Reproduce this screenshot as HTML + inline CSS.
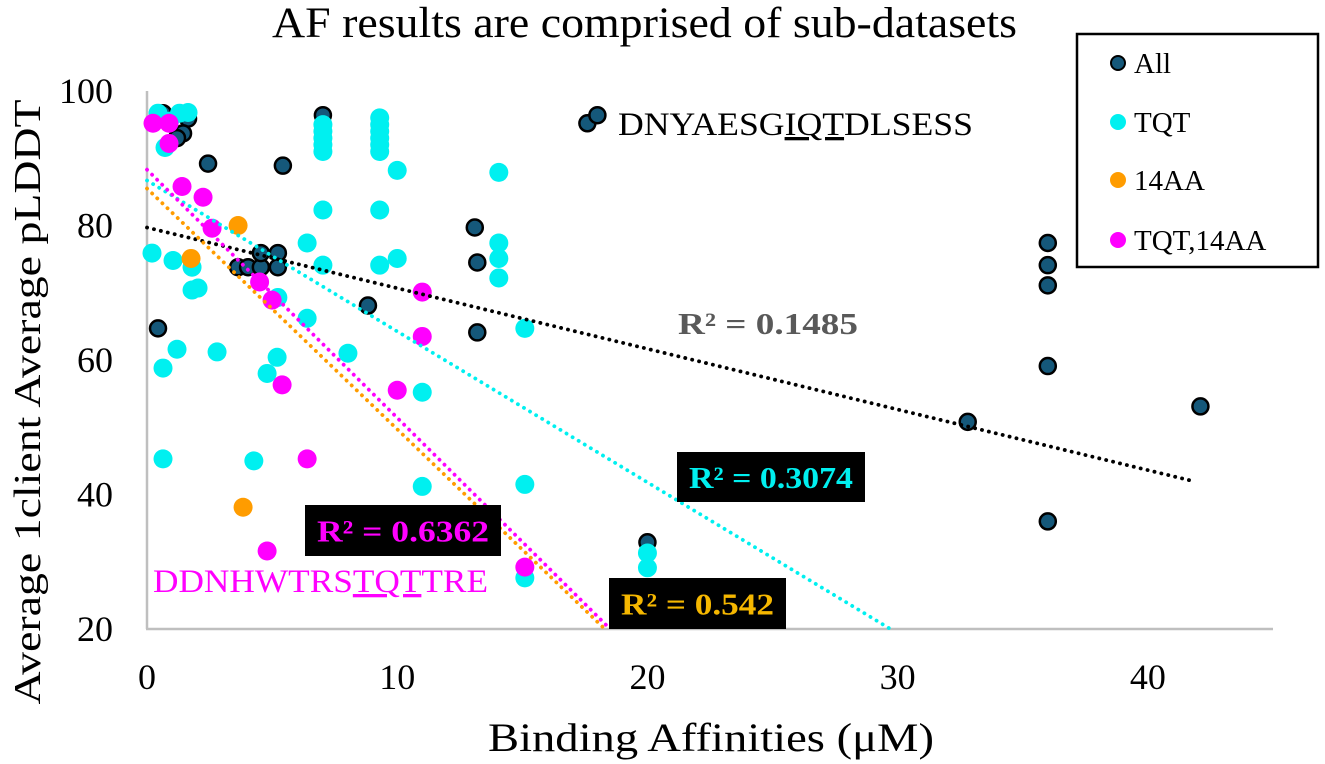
<!DOCTYPE html>
<html><head><meta charset="utf-8"><style>
html,body{margin:0;padding:0;background:#fff;}
svg{display:block;font-family:"Liberation Serif",serif;}
</style></head><body>
<svg id="chart" width="1325" height="764" viewBox="0 0 1325 764" xmlns="http://www.w3.org/2000/svg">
<rect width="1325" height="764" fill="#fff"/>
<text x="272" y="37" font-size="43" textLength="745" lengthAdjust="spacingAndGlyphs" fill="#000">AF results are comprised of sub-datasets</text>
<g id="axes"></g>
<g id="marks"></g>
<g id="trends"></g>
<g id="annos"></g>
<text transform="translate(40,402) rotate(-90)" text-anchor="middle" font-size="38" textLength="605" lengthAdjust="spacingAndGlyphs" fill="#000">Average  1client Average  pLDDT</text>
<text x="711" y="751" text-anchor="middle" font-size="40" textLength="446" lengthAdjust="spacingAndGlyphs" fill="#000">Binding Affinities (μM)</text>
<g>
<rect x="1077" y="34" width="241" height="233" fill="#fff" stroke="#000" stroke-width="2.5"/>
<g><circle cx="1118" cy="63" r="7" fill="#15587a" stroke="#000" stroke-width="2"/><text x="1134" y="73" font-size="29">All</text></g>
<g><circle cx="1118" cy="122" r="8" fill="#00f0f0"/><text x="1134" y="132" font-size="29">TQT</text></g>
<g><circle cx="1118" cy="180" r="8" fill="#ff9c00"/><text x="1134" y="190" font-size="29">14AA</text></g>
<g><circle cx="1118" cy="240" r="8" fill="#ff00ff"/><text x="1134" y="250" font-size="29">TQT,14AA</text></g>
</g>
</svg>
<script>
const xTicks = [0, 10, 20, 30, 40];
const yTicks = [20, 40, 60, 80, 100];
const allX = [0.44,0.64,1.64,1.44,1.2,2.44,5.43,7.03,3.64,4.04,4.55,4.55,5.23,5.23,8.83,13.1,13.2,13.2,17.6,18.0,20,32.8,36,36,36,36,36,42.1];
const allY = [64.7,96.7,95.9,93.7,93.0,89.2,88.9,96.4,73.8,73.8,73.8,75.9,75.9,73.8,68.1,79.7,74.5,64.1,95.2,96.4,32.9,50.8,77.4,74.1,71.1,59.1,36.0,53.1];
const tqtX = [0.44,1.3,1.64,0.72,0.9,7.03,7.03,7.03,7.03,7.03,9.3,9.3,9.3,9.3,9.3,9.3,10.0,14.06,7.03,9.3,0.2,1.04,1.8,1.8,2.04,6.4,7.03,9.3,10.0,14.06,14.06,14.06,5.23,6.4,15.1,1.2,2.8,0.64,5.2,4.8,8.03,11.0,0.64,4.27,11.0,15.1,15.1,20,20];
const tqtY = [96.7,96.7,96.8,91.6,95.5,91,92,93,94,95,91,92,93,94,95,96,88.2,87.9,82.3,82.3,75.9,74.8,73.8,70.4,70.7,77.4,74.1,74.1,75.1,77.4,75.1,72.2,69.3,66.2,64.7,61.6,61.2,58.8,60.4,58.0,61.0,55.2,45.3,45.0,41.2,41.5,27.6,31.3,29.1];
const aa14X = [3.64,1.76,3.84];
const aa14Y = [80.0,75.1,38.1];
const bothX = [0.24,0.88,0.88,1.4,2.24,2.6,4.5,5.0,5.4,11.0,11.0,10.0,6.4,4.8,15.1];
const bothY = [95.2,95.2,92.2,85.8,84.2,79.6,71.6,68.9,56.3,70.1,63.5,55.5,45.3,31.6,29.2];
const trendNames = ["trend-all","trend-tqt","trend-14aa","trend-tqt-14aa"];
const trendIntercepts = [79.7, 86.7, 85.5, 88.3];
const trendSlopes = [-0.902, -2.245, -3.58, -3.69];
const trendXmax = [41.8, 45, 45, 45];

const NS = "http://www.w3.org/2000/svg";
const X0 = 147, X1 = 1273, Y0 = 629, Y1 = 91;
const xMin = 0, xMax = 45, yMin = 20, yMax = 100;
function sx(v){ return X0 + (v - xMin) / (xMax - xMin) * (X1 - X0); }
function sy(v){ return Y0 - (v - yMin) / (yMax - yMin) * (Y0 - Y1); }
function mk(tag, attrs, parent){ const e = document.createElementNS(NS, tag); for (const k in attrs) e.setAttribute(k, attrs[k]); parent.appendChild(e); return e; }

const axes = document.getElementById('axes');
let l = mk('line', {x1:X0, y1:Y1, x2:X0, y2:Y0, stroke:'#bfbfbf', 'stroke-width':2.5}, axes);


l = mk('line', {x1:X0-1, y1:Y0, x2:X1, y2:Y0, stroke:'#bfbfbf', 'stroke-width':2.5}, axes);


xTicks.forEach(function(t){
  const e = mk('text', {x:sx(t), y:689, 'text-anchor':'middle', 'font-size':36, fill:'#000'}, axes);
  e.textContent = t;
  
  
});
yTicks.forEach(function(t){
  const e = mk('text', {x:113, y:sy(t)+12, 'text-anchor':'end', 'font-size':36, fill:'#000'}, axes);
  e.textContent = t;
  
  
});

const marks = document.getElementById('marks');
function drawSeries(xs, ys, name, fill, stroke){
  const g = mk('g', {}, marks);
  
  
  for (let i = 0; i < xs.length; i++){
    const a = {cx:sx(xs[i]), cy:sy(ys[i]), r: stroke ? 8 : 9.5, fill:fill};
    if (stroke){ a.stroke = stroke; a['stroke-width'] = 2.5; }
    const c = mk('circle', a, g);
    
    
  }
}
drawSeries(allX, allY, 'series-all', '#15587a', '#000');
drawSeries(tqtX, tqtY, 'series-tqt', '#00f0f0', null);
drawSeries(aa14X, aa14Y, 'series-14aa', '#ff9c00', null);
drawSeries(bothX, bothY, 'series-tqt-14aa', '#ff00ff', null);

const trends = document.getElementById('trends');
const trendColors = ['#000','#00f0f0','#ff9c00','#ff00ff'];
for (let i = 0; i < trendNames.length; i++){
  const b = trendIntercepts[i], m = trendSlopes[i];
  let xe = trendXmax[i];
  const yAtEnd = b + m * xe;
  if (yAtEnd < yMin) xe = (yMin - b) / m;
  const ln = mk('line', {x1:sx(0), y1:sy(b), x2:sx(xe), y2:sy(b + m*xe), stroke:trendColors[i], 'stroke-width':3.8, 'stroke-dasharray':'0.1 7', 'stroke-linecap':'round'}, trends);
  
  
}

const an = document.getElementById('annos');
function label(name, x, y, w, h, txt, color, bg){
  const g = mk('g', {}, an);
  
  
  if (bg) mk('rect', {x:x, y:y, width:w, height:h, fill:'#000'}, g);
  const t = mk('text', {x:x+w/2, y:y+h/2+11, 'text-anchor':'middle', 'font-size':31, 'font-weight':'bold', fill:color, textLength:w-24, lengthAdjust:'spacingAndGlyphs'}, g);
  t.textContent = txt;
}
label('r2-all-label', 666, 298, 204, 50, 'R² = 0.1485', '#595959', false);
label('r2-tqt-label', 677, 452, 188, 50, 'R² = 0.3074', '#00f0f0', true);
label('r2-14aa-label', 609, 578, 177, 51, 'R² = 0.542', '#f5b700', true);
label('r2-tqt-14aa-label', 305, 505, 196, 51, 'R² = 0.6362', '#ff00ff', true);

function seq(name, x, y, w, pre, u, post, color){
  const t = mk('text', {x:x, y:y, 'font-size':33, fill:color, textLength:w, lengthAdjust:'spacingAndGlyphs'}, an);
  
  
  const s1 = mk('tspan', {}, t); s1.textContent = pre;
  const s2 = mk('tspan', {'text-decoration':'underline'}, t); s2.textContent = u;
  const s3 = mk('tspan', {}, t); s3.textContent = post;
}
seq('sequence-dnyaesgiqtdlsess', 618, 135, 355, 'DNYAESG', 'IQT', 'DLSESS', '#000');
seq('sequence-ddnhwtrstqttre', 153, 592, 335, 'DDNHWTRS', 'TQT', 'TRE', '#ff00ff');
</script>
</body></html>
